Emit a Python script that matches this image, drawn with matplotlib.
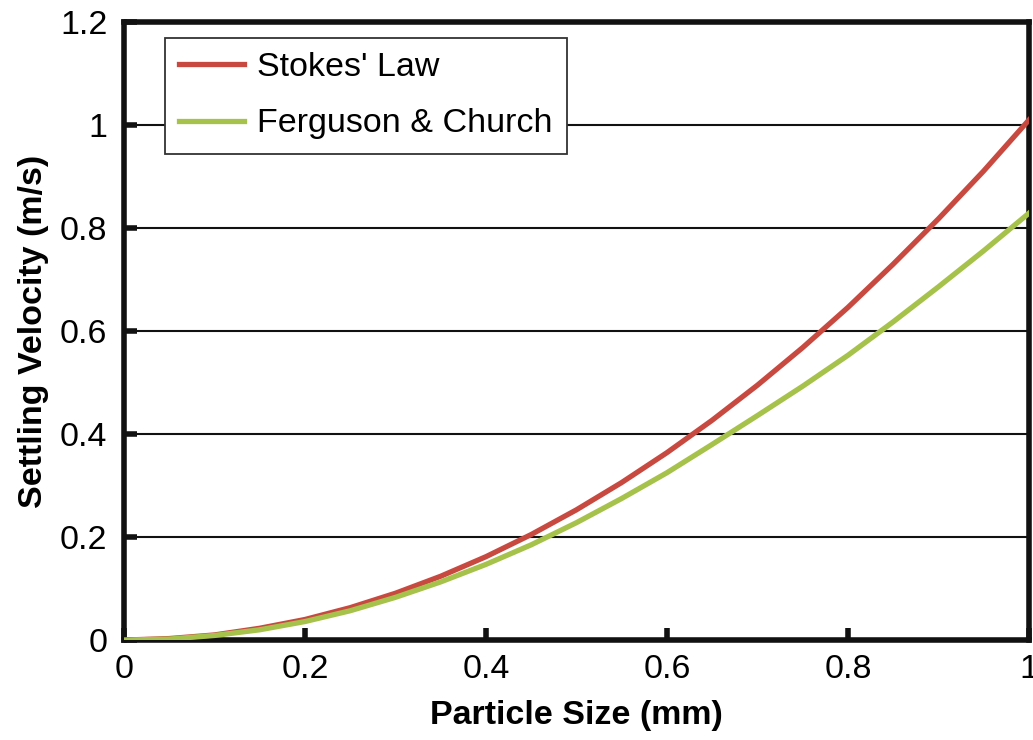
import matplotlib
matplotlib.use('Agg')
import matplotlib.pyplot as plt
import numpy as np

### data ###
size_mm = [0, 0.05, 0.1, 0.15, 0.2, 0.25, 0.3, 0.35, 0.4, 0.45, 0.5,
           0.55, 0.6, 0.65, 0.7, 0.75, 0.8, 0.85, 0.9, 0.95, 1.0]
stokes = [0, 0.003, 0.010, 0.023, 0.040, 0.063, 0.091, 0.124, 0.162, 0.205, 0.253,
          0.306, 0.364, 0.427, 0.495, 0.568, 0.646, 0.730, 0.818, 0.911, 1.01]
ferguson = [0, 0.002, 0.009, 0.020, 0.036, 0.057, 0.083, 0.113, 0.147, 0.185, 0.228,
            0.275, 0.325, 0.380, 0.436, 0.493, 0.553, 0.618, 0.686, 0.756, 0.829]
yticks = [0, 0.2, 0.4, 0.6, 0.8, 1, 1.2]
ytick_labels = ['0', '0.2', '0.4', '0.6', '0.8', '1', '1.2']
xticks = [0, 0.2, 0.4, 0.6, 0.8, 1]
xtick_labels = ['0', '0.2', '0.4', '0.6', '0.8', '1']

plt.rcParams['font.family'] = ['Liberation Sans', 'DejaVu Sans']

fig = plt.figure(figsize=(10.33, 7.4), dpi=100)
ax = fig.add_axes([0.120, 0.135, 0.876, 0.835])

ax.plot(size_mm, stokes, color='#C8493F', lw=3.8, label="Stokes' Law", zorder=3)
ax.plot(size_mm, ferguson, color='#A6C24A', lw=3.8, label='Ferguson & Church', zorder=4)

ax.set_xlim(0, 1)
ax.set_ylim(0, 1.2)
ax.set_yticks(yticks)
ax.set_yticklabels(ytick_labels)
ax.set_xticks(xticks)
ax.set_xticklabels(xtick_labels)
ax.grid(axis='y', color='#111111', lw=1.5, zorder=1)
ax.set_axisbelow(True)

for s in ax.spines.values():
    s.set_linewidth(4)
    s.set_color('#111111')
ax.tick_params(direction='in', length=9, width=4, color='#111111',
               labelsize=24.5, pad=10, top=False, right=False)
ax.tick_params(axis='y', pad=12)

ax.set_xlabel('Particle Size (mm)', fontsize=24.5, fontweight='bold', labelpad=11)
ax.set_ylabel('Settling Velocity (m/s)', fontsize=24.5, fontweight='bold', labelpad=8)

leg = ax.legend(loc='upper left', bbox_to_anchor=(0.045, 0.975), fontsize=24.5,
                frameon=True, fancybox=False, handlelength=1.9, handletextpad=0.4,
                borderpad=0.42, labelspacing=0.75, borderaxespad=0)
leg.get_frame().set_edgecolor('#333333')
leg.get_frame().set_linewidth(1.3)
leg.get_frame().set_alpha(1)

fig.savefig('out.png', dpi=100)
